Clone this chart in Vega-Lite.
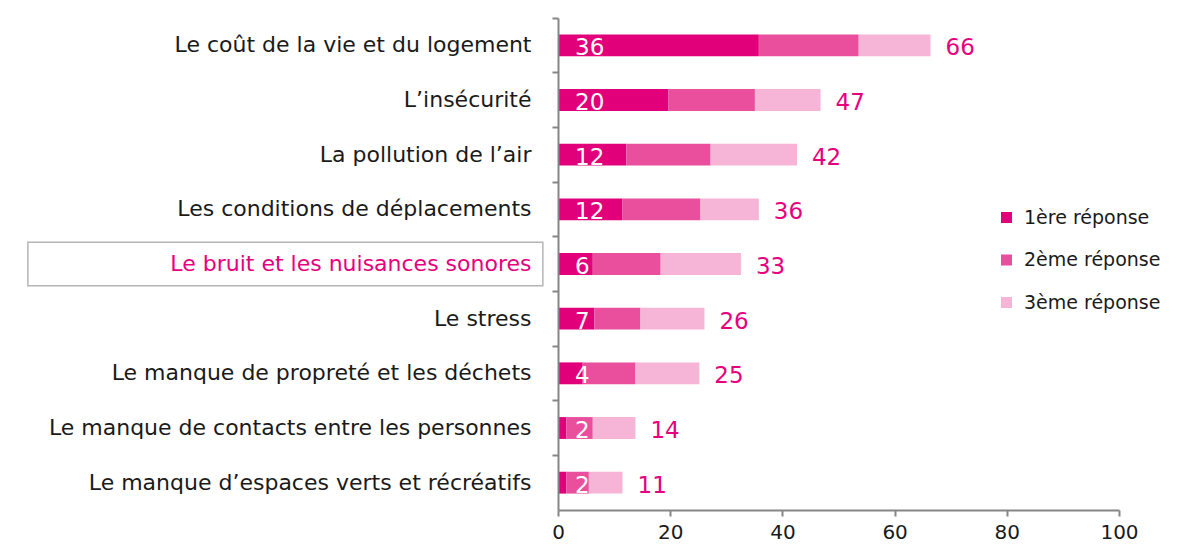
{
  "$schema": "https://vega.github.io/schema/vega-lite/v6.json",
  "autosize": "none",
  "width": 561,
  "height": 492,
  "padding": {"left": 558, "top": 18, "right": 59, "bottom": 40},
  "background": "white",
  "config": {"view": {"stroke": null}, "font": "DejaVu Sans"},
  "datasets": {
    "bars": [
      {"cat": "Le coût de la vie et du logement", "rep": "1ère réponse", "val": 35.8},
      {"cat": "Le coût de la vie et du logement", "rep": "2ème réponse", "val": 17.8},
      {"cat": "Le coût de la vie et du logement", "rep": "3ème réponse", "val": 12.8},
      {"cat": "L’insécurité", "rep": "1ère réponse", "val": 19.7},
      {"cat": "L’insécurité", "rep": "2ème réponse", "val": 15.4},
      {"cat": "L’insécurité", "rep": "3ème réponse", "val": 11.7},
      {"cat": "La pollution de l’air", "rep": "1ère réponse", "val": 12.2},
      {"cat": "La pollution de l’air", "rep": "2ème réponse", "val": 15.0},
      {"cat": "La pollution de l’air", "rep": "3ème réponse", "val": 15.4},
      {"cat": "Les conditions de déplacements", "rep": "1ère réponse", "val": 11.5},
      {"cat": "Les conditions de déplacements", "rep": "2ème réponse", "val": 13.9},
      {"cat": "Les conditions de déplacements", "rep": "3ème réponse", "val": 10.4},
      {"cat": "Le bruit et les nuisances sonores", "rep": "1ère réponse", "val": 6.2},
      {"cat": "Le bruit et les nuisances sonores", "rep": "2ème réponse", "val": 12.1},
      {"cat": "Le bruit et les nuisances sonores", "rep": "3ème réponse", "val": 14.3},
      {"cat": "Le stress", "rep": "1ère réponse", "val": 6.5},
      {"cat": "Le stress", "rep": "2ème réponse", "val": 8.2},
      {"cat": "Le stress", "rep": "3ème réponse", "val": 11.4},
      {"cat": "Le manque de propreté et les déchets", "rep": "1ère réponse", "val": 4.4},
      {"cat": "Le manque de propreté et les déchets", "rep": "2ème réponse", "val": 9.4},
      {"cat": "Le manque de propreté et les déchets", "rep": "3ème réponse", "val": 11.4},
      {"cat": "Le manque de contacts entre les personnes", "rep": "1ère réponse", "val": 1.5},
      {"cat": "Le manque de contacts entre les personnes", "rep": "2ème réponse", "val": 4.7},
      {"cat": "Le manque de contacts entre les personnes", "rep": "3ème réponse", "val": 7.6},
      {"cat": "Le manque d’espaces verts et récréatifs", "rep": "1ère réponse", "val": 1.5},
      {"cat": "Le manque d’espaces verts et récréatifs", "rep": "2ème réponse", "val": 4.0},
      {"cat": "Le manque d’espaces verts et récréatifs", "rep": "3ème réponse", "val": 6.0}
    ],
    "labels": [
      {"cat": "Le coût de la vie et du logement", "first": 36, "end": 66.4, "total": 66},
      {"cat": "L’insécurité", "first": 20, "end": 46.8, "total": 47},
      {"cat": "La pollution de l’air", "first": 12, "end": 42.6, "total": 42},
      {"cat": "Les conditions de déplacements", "first": 12, "end": 35.8, "total": 36},
      {"cat": "Le bruit et les nuisances sonores", "first": 6, "end": 32.6, "total": 33},
      {"cat": "Le stress", "first": 7, "end": 26.1, "total": 26},
      {"cat": "Le manque de propreté et les déchets", "first": 4, "end": 25.2, "total": 25},
      {"cat": "Le manque de contacts entre les personnes", "first": 2, "end": 13.8, "total": 14},
      {"cat": "Le manque d’espaces verts et récréatifs", "first": 2, "end": 11.5, "total": 11}
    ]
  },
  "encoding": {
    "y": {
      "field": "cat",
      "type": "nominal",
      "sort": ["Le coût de la vie et du logement", "L’insécurité", "La pollution de l’air", "Les conditions de déplacements", "Le bruit et les nuisances sonores", "Le stress", "Le manque de propreté et les déchets", "Le manque de contacts entre les personnes", "Le manque d’espaces verts et récréatifs"],
      "scale": {"paddingInner": 0, "paddingOuter": 0},
      "axis": {
        "title": null,
        "bandPosition": 0,
        "domainColor": "#868686",
        "domainWidth": 2,
        "tickColor": "#868686",
        "tickWidth": 2,
        "tickSize": 6,
        "labelFontSize": 22,
        "labelFont": "DejaVu Sans",
        "labelColor": {"condition": {"test": "datum.value == 'Le bruit et les nuisances sonores'", "value": "#e6007e"}, "value": "#1a1a1a"},
        "labelPadding": 21,
        "labelLimit": 600
      }
    }
  },
  "layer": [
    {
      "data": {"name": "labels"},
      "transform": [{"filter": "datum.cat == 'Le bruit et les nuisances sonores'"}],
      "mark": {"type": "rect", "fill": null, "stroke": "#b5b5b5", "strokeWidth": 1.5, "height": {"band": 0.8}},
      "encoding": {
        "x": {"datum": -94.5, "type": "quantitative"},
        "x2": {"datum": -2.7}
      }
    },
    {
      "data": {"name": "bars"},
      "mark": {"type": "bar", "height": {"band": 0.4}},
      "encoding": {
        "x": {
          "field": "val",
          "type": "quantitative",
          "stack": "zero",
          "scale": {"domain": [0, 100]},
          "axis": {
            "title": null,
            "values": [0, 20, 40, 60, 80, 100],
            "grid": false,
            "domainColor": "#868686",
            "domainWidth": 2,
            "tickColor": "#868686",
            "tickWidth": 2,
            "tickSize": 6,
            "labelFontSize": 20,
            "labelFont": "DejaVu Sans",
            "labelColor": "#1a1a1a",
            "labelPadding": 6,
            "labelFlush": false
          }
        },
        "order": {"field": "rep", "sort": "ascending"},
        "color": {
          "field": "rep",
          "type": "nominal",
          "scale": {"domain": ["1ère réponse", "2ème réponse", "3ème réponse"], "range": ["#e2007a", "#e94f9d", "#f6b4d6"]},
          "legend": {
            "title": null,
            "orient": "none",
            "legendX": 439,
            "legendY": 190,
            "symbolType": "square",
            "symbolSize": 121,
            "symbolStrokeWidth": 0,
            "labelFontSize": 19,
            "labelFont": "DejaVu Sans",
            "labelColor": "#1a1a1a",
            "rowPadding": 22.5,
            "labelOffset": 8
          }
        }
      }
    },
    {
      "data": {"name": "labels"},
      "mark": {"type": "text", "align": "left", "baseline": "middle", "dx": 17, "dy": 3, "fontSize": 23, "color": "white", "font": "DejaVu Sans"},
      "encoding": {
        "x": {"datum": 0, "type": "quantitative"},
        "text": {"field": "first", "type": "quantitative"}
      }
    },
    {
      "data": {"name": "labels"},
      "mark": {"type": "text", "align": "left", "baseline": "middle", "dx": 15, "dy": 3, "fontSize": 23, "color": "#e6007e", "font": "DejaVu Sans"},
      "encoding": {
        "x": {"field": "end", "type": "quantitative"},
        "text": {"field": "total", "type": "quantitative"}
      }
    }
  ]
}
